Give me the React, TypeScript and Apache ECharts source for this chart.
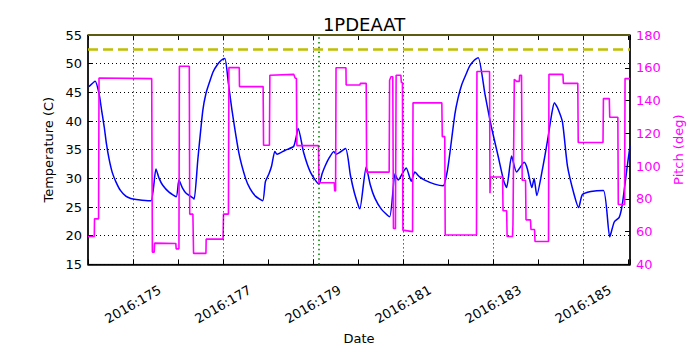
import React, { useEffect, useRef } from "react";
import * as echarts from "echarts";

const chartTitle = "1PDEAAT";
const xAxisName = "Date";
const leftAxisName = "Temperature (C)";
const rightAxisName = "Pitch (deg)";

const xLabelDays = [175, 177, 179, 181, 183, 185];
const limitTemp = 52.5;
const topLimitTemp = 55;
const eventDay = 179.13;

const tempDays = [
  174.02, 174.16, 174.25, 174.3, 174.36, 174.41, 174.47, 174.54, 174.62, 174.72,
  174.84, 174.95, 175.07, 175.2, 175.4, 175.51, 175.58, 175.66, 175.8, 175.96,
  176.02, 176.1, 176.18, 176.33, 176.36, 176.44, 176.55, 176.62, 176.7, 176.78,
  176.88, 176.96, 177.04, 177.12, 177.2, 177.35, 177.5, 177.6, 177.72, 177.88,
  177.94, 178.02, 178.08, 178.15, 178.2, 178.38, 178.57, 178.67, 178.79, 178.94,
  179.13, 179.2, 179.27, 179.36, 179.46, 179.51, 179.72, 179.83, 179.92, 180.02,
  180.04, 180.18, 180.27, 180.37, 180.52, 180.7, 180.82, 180.89, 181.0, 181.07,
  181.18, 181.26, 181.36, 181.48, 181.7, 181.89, 181.98, 182.04, 182.15, 182.22,
  182.3, 182.4, 182.48, 182.58, 182.67, 182.82, 182.96, 183.11, 183.24, 183.3,
  183.41, 183.52, 183.69, 183.76, 183.86, 183.91, 183.97, 184.1, 184.21, 184.3,
  184.36, 184.43, 184.54, 184.65, 184.8, 184.9, 184.98, 185.17, 185.45, 185.59,
  185.69, 185.8, 185.87, 185.98, 186.04,
];
const tempValues = [
  46.0, 46.95, 44.6, 42.0, 39.0, 36.0, 33.3, 31.0, 29.4, 27.9,
  26.9, 26.5, 26.3, 26.2, 26.1, 31.65, 30.0, 28.8, 27.6, 26.8,
  29.7, 28.3, 27.4, 26.6, 26.4, 33.3, 41.8, 44.8, 46.8, 48.6,
  49.9, 50.6, 50.9, 46.5, 41.8, 34.5, 30.0, 28.2, 26.9, 26.1,
  29.4, 30.8, 32.2, 34.7, 34.2, 34.9, 35.6, 38.7, 34.5, 31.1,
  29.0, 30.8, 32.2, 33.6, 34.7, 34.2, 35.2, 30.5, 27.4, 24.9,
  24.7, 32.0, 28.9, 26.6, 24.6, 23.3, 30.8, 29.7, 31.1, 31.8,
  29.5, 31.1, 30.3, 29.7, 29.0, 28.7, 31.2, 34.5, 41.2, 44.0,
  46.3, 48.2, 49.6, 50.6, 51.05, 44.6, 39.0, 33.9, 29.4, 28.4,
  33.9, 31.1, 32.8, 31.65, 28.4, 30.0, 27.0, 31.8, 36.7, 41.2,
  43.2, 42.3, 39.8, 32.2, 27.15, 24.9, 27.15, 27.7, 27.9, 19.8,
  22.4, 23.2, 25.5, 32.2, 35.6,
];

const pitchDays = [
  174.0, 174.14, 174.145, 174.235, 174.245, 175.415, 175.43, 175.47, 175.48, 175.95,
  175.96, 176.02, 176.03, 176.25, 176.26, 176.33, 176.345, 176.62, 176.625, 177.0,
  177.01, 177.12, 177.13, 177.36, 177.365, 177.89, 177.9, 178.03, 178.04, 178.57,
  178.6, 178.63, 178.64, 179.12, 179.13, 179.47, 179.48, 179.5, 179.51, 179.73,
  179.735, 180.04, 180.05, 180.18, 180.19, 180.69, 180.7, 180.73, 180.77, 180.785,
  180.83, 180.845, 180.95, 180.96, 180.985, 180.995, 181.21, 181.22, 181.86, 181.87,
  181.925, 181.935, 182.63, 182.64, 182.92, 182.93, 182.94, 183.21, 183.22, 183.3,
  183.31, 183.43, 183.44, 183.47, 183.52, 183.58, 183.59, 183.63, 183.645, 183.72,
  183.73, 183.83, 183.84, 183.92, 183.93, 184.23, 184.24, 184.55, 184.56, 184.88,
  184.89, 185.44, 185.45, 185.58, 185.59, 185.77, 185.78, 185.92, 185.93, 186.04,
];
const pitchValues = [
  57, 57, 67.8, 67.8, 153.8, 153.4, 47.5, 47.5, 53, 52.8,
  49.5, 49.5, 160.9, 160.9, 70.7, 70.7, 46.7, 46.7, 55.4, 55.4,
  70.7, 70.7, 160.1, 160.1, 148.5, 148.5, 112.7, 112.7, 155.4, 156,
  153.8, 153.5, 112.5, 112.5, 89.8, 89.8, 84.9, 84.9, 160, 160,
  149.5, 149.5, 150.5, 150.5, 96.3, 96.3, 152.4, 154.5, 154.5, 61.9,
  61.9, 155.4, 155.4, 151, 151, 60.9, 60, 138.6, 138.6, 118,
  118, 57.9, 57.9, 157.7, 157.7, 83.5, 93.3, 93.3, 72.7, 72.7,
  57, 57, 64, 153, 151.7, 151.7, 155.4, 155.4, 91.4, 91.4,
  67.2, 67.2, 61.3, 61.3, 54, 54, 156, 156, 150.5, 150.5,
  114.4, 114.4, 141.2, 141.2, 129.8, 129.8, 76.6, 76.6, 153.4, 153.4,
];

export default function App() {
  const ref = useRef<HTMLDivElement>(null);
  useEffect(() => {
    const chart = echarts.init(ref.current!, null, { renderer: "svg" });
    const font = "DejaVu Sans";
    const tempData = tempDays.map((d, i) => [d, tempValues[i]]);
    const pitchData = pitchDays.map((d, i) => [d, pitchValues[i]]);
    const xMin = 174;
    const xMax = 186.04;
    chart.setOption({
      animation: false,
      textStyle: { fontFamily: font },
      title: {
        text: chartTitle,
        left: 359,
        top: 10,
        textAlign: "center",
        textStyle: { fontSize: 18, fontWeight: "normal", color: "#000", fontFamily: font },
      },
      grid: {
        left: 88,
        right: 70,
        top: 35,
        bottom: 78,
        show: true,
        borderColor: "#000",
        borderWidth: 1,
        backgroundColor: "#fff",
      },
      xAxis: [
        {
          type: "value",
          position: "bottom",
          min: xMin,
          max: xMax,
          interval: 1,
          axisLine: { show: true, lineStyle: { color: "#000", width: 1.5 } },
          axisTick: { show: true, inside: true, length: 5, lineStyle: { color: "#000" } },
          axisLabel: {
            formatter: (v: number) => (xLabelDays.includes(v) ? `2016:${v}` : ""),
            rotate: 30,
            align: "center",
            verticalAlign: "middle",
            margin: 40,
            fontSize: 13,
            color: "#000",
            fontFamily: font,
          },
          splitLine: { show: false },
          name: xAxisName,
          nameLocation: "middle",
          nameGap: 57,
          nameTextStyle: { fontSize: 13, color: "#000", fontFamily: font },
        },
        {
          type: "value",
          position: "top",
          min: xMin,
          max: xMax,
          interval: 1,
          axisLine: { show: true, lineStyle: { color: "#000", width: 1 } },
          axisTick: { show: true, inside: true, length: 5, lineStyle: { color: "#000" } },
          axisLabel: { show: false },
          splitLine: { show: false },
        },
      ],
      yAxis: [
        {
          type: "value",
          position: "left",
          min: 15,
          max: 55,
          interval: 5,
          axisLine: { show: true, lineStyle: { color: "#000", width: 1.5 } },
          axisTick: { show: true, inside: true, length: 5, lineStyle: { color: "#000" } },
          axisLabel: { fontSize: 13, color: "#000", margin: 6, fontFamily: font },
          splitLine: { show: true, lineStyle: { color: "#000", type: [1, 3], width: 1 } },
          name: leftAxisName,
          nameLocation: "middle",
          nameRotate: 90,
          nameGap: 25,
          nameTextStyle: { fontSize: 13, color: "#000", fontFamily: font },
        },
        {
          type: "value",
          position: "right",
          min: 40,
          max: 180,
          interval: 20,
          axisLine: { show: true, lineStyle: { color: "#000", width: 1.5 } },
          axisTick: { show: true, inside: true, length: 5, lineStyle: { color: "#000" } },
          axisLabel: { fontSize: 13, color: "#ff00ff", margin: 6, fontFamily: font },
          splitLine: { show: false },
          name: rightAxisName,
          nameLocation: "middle",
          nameRotate: 90,
          nameGap: 35,
          nameTextStyle: { fontSize: 13, color: "#ff00ff", fontFamily: font },
        },
      ],
      series: [
        {
          name: "grid",
          type: "line",
          xAxisIndex: 0,
          yAxisIndex: 0,
          data: [],
          z: 1,
          silent: true,
          markLine: {
            silent: true,
            symbol: ["none", "none"],
            label: { show: false },
            lineStyle: { color: "#000", type: [1, 3], width: 1 },
            data: xLabelDays.map((d) => ({ xAxis: d })),
          },
        },
        {
          name: "Temperature",
          type: "line",
          xAxisIndex: 0,
          yAxisIndex: 0,
          data: tempData,
          showSymbol: false,
          symbol: "none",
          smooth: 0.2,
          lineStyle: { color: "#0000ff", width: 1.5 },
          itemStyle: { color: "#0000ff" },
          z: 3,
          markLine: {
            silent: true,
            symbol: ["none", "none"],
            label: { show: false },
            data: [
              { yAxis: limitTemp, lineStyle: { color: "#bfbf00", type: [10, 5], width: 2.5 } },
              { yAxis: topLimitTemp, lineStyle: { color: "#5c5c10", type: "solid", width: 2 } },
              { xAxis: eventDay, lineStyle: { color: "#008000", type: [1.5, 3.2], width: 1.5 } },
            ],
          },
        },
        {
          name: "Pitch",
          type: "line",
          xAxisIndex: 0,
          yAxisIndex: 1,
          data: pitchData,
          showSymbol: false,
          symbol: "none",
          lineStyle: { color: "#ff00ff", width: 1.6 },
          itemStyle: { color: "#ff00ff" },
          z: 4,
        },
      ],
    });
    return () => chart.dispose();
  }, []);
  return (
    <div
      ref={ref}
      style={{ position: "absolute", left: 0, top: 0, width: 700, height: 350 }}
    />
  );
}
